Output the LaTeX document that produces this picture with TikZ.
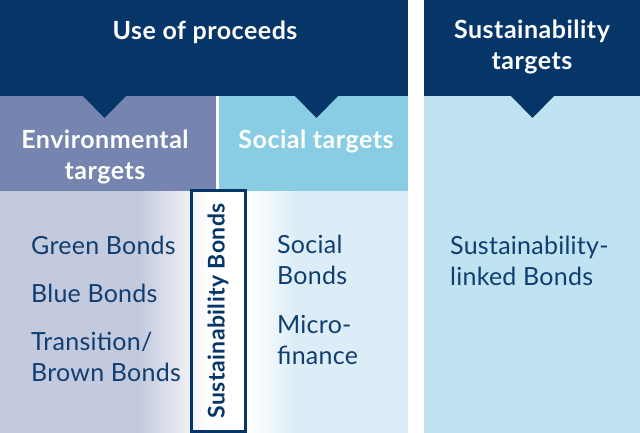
\documentclass[tikz,border=0pt]{standalone}
\usepackage{fontspec}
\setmainfont{Lato}
\newfontfamily\headfont{Lato}[LetterSpace=2]
\newfontfamily\bodyfont{Lato}[LetterSpace=1]
\definecolor{navy}{RGB}{6,54,104}
\definecolor{navytext}{RGB}{16,62,112}
\definecolor{envbox}{RGB}{117,133,176}
\definecolor{socbox}{RGB}{137,205,229}
\definecolor{lav}{RGB}{196,202,222}
\definecolor{lowblue}{RGB}{220,237,247}
\definecolor{rightblue}{RGB}{191,227,241}
\tikzset{
  heading/.style={text=white, font=\headfont\bfseries\fontsize{25}{31}\selectfont, align=center, inner sep=0},
  bodytext/.style={text=navytext, font=\bodyfont\fontsize{25}{31}\selectfont, align=left, inner sep=0, anchor=west},
  pointer/.style={fill=navy, draw=none},
}
\begin{document}
\begin{tikzpicture}[x=1pt,y=-1pt]
\useasboundingbox (0,0) rectangle (640,433);
\fill[white] (0,0) rectangle (640,433);
% lower gradient band (left panel)
\fill[lav] (0,191) rectangle (141,433);
\shade[left color=lav, right color=white, draw=none] (140,191) rectangle (208,433);
\fill[white] (207,191) rectangle (249,433);
\shade[left color=white, right color=lowblue, draw=none] (248,191) rectangle (296,433);
\fill[lowblue] (295,191) rectangle (408,433);
% category boxes
\fill[envbox] (0,95) rectangle (216,191);
\fill[socbox] (219,95) rectangle (408,191);
\fill[rightblue] (424,95) rectangle (640,433);
% dark header bands
\fill[navy] (0,0) rectangle (408,96);
\fill[navy] (424,0) rectangle (640,96);
\fill[pointer] (82,95) -- (127,95) -- (104.5,118) -- cycle;
\fill[pointer] (294,95) -- (339,95) -- (316.5,118) -- cycle;
\fill[pointer] (510,95) -- (555,95) -- (532.5,118) -- cycle;
% headings
\node[heading] (uop) at (205,32) {Use of proceeds};
\node[heading] (st) at (532,47) {Sustainability\\targets};
\node[heading] (env) at (105,157) {Environmental\\targets};
\node[heading] (soc) at (316,141) {Social targets};
% items
\node[bodytext] (green) at (31,245) {Green Bonds};
\node[bodytext] (blue) at (31,293) {Blue Bonds};
\node[bodytext] (trans) at (31,357) {Transition/\\Brown Bonds};
\node[bodytext] (social) at (277,260) {Social\\Bonds};
\node[bodytext] (micro) at (277,340) {Micro-\\finance};
\node[bodytext] (slb) at (450,261) {Sustainability-\\linked Bonds};
% sustainability bonds box
\draw[navy, line width=3pt] (191,190) rectangle (245,431);
\node[text=navy, font=\headfont\bfseries\fontsize{23}{25}\selectfont, rotate=90, inner sep=0] (sb) at (218,311) {Sustainability Bonds};
\end{tikzpicture}
\end{document}
